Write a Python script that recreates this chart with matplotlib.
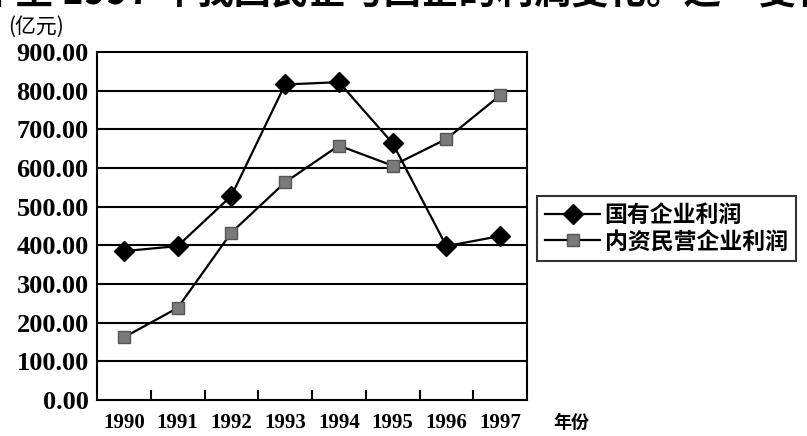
import matplotlib.pyplot as plt
import numpy as np

plt.rcParams['font.family'] = ['Liberation Serif', 'Noto Sans CJK SC', 'DejaVu Sans']

years = ['1990', '1991', '1992', '1993', '1994', '1995', '1996', '1997']
state_profit = [385, 398, 528, 816, 822, 664, 398, 424]
private_profit = [162, 238, 433, 563, 658, 606, 675, 788]
y_ticks = [0, 100, 200, 300, 400, 500, 600, 700, 800, 900]

fig = plt.figure(figsize=(8.07, 4.36), dpi=100)
ax = fig.add_axes([97 / 807, 1 - 400 / 436, 430 / 807, 348 / 436])

x = np.arange(len(years))

# horizontal grid lines
for v in y_ticks[1:-1]:
    ax.axhline(v, color='black', lw=1.5, zorder=1)

ax.plot(x, state_profit, color='black', lw=1.6, marker='D', ms=10,
        mfc='black', mec='black', label='国有企业利润', zorder=3)
ax.plot(x, private_profit, color='black', lw=1.6, marker='s', ms=8,
        mfc='#7a7a7a', mec='#555555', label='内资民营企业利润', zorder=3)

ax.set_xlim(-0.5, len(years) - 0.5)
ax.set_ylim(0, 900)
ax.set_yticks(y_ticks)
ax.set_yticklabels(['%.2f' % v for v in y_ticks], fontsize=19, fontweight='bold')
ax.tick_params(axis='y', length=0, pad=6)

ax.set_xticks(x)
ax.set_xticklabels(years, fontsize=15, fontweight='bold')
ax.set_xticks(x[:-1] + 0.5, minor=True)
ax.tick_params(axis='x', which='major', length=0, pad=9)
ax.tick_params(axis='x', which='minor', direction='in', length=7, width=1.5)

for s in ax.spines.values():
    s.set_color('black')
    s.set_linewidth(1.5)

ax.text(1.06, -0.065, '年份', transform=ax.transAxes, fontsize=13,
        fontweight='bold', family=['Noto Sans CJK SC'], ha='left', va='center')

fig.text(8 / 807, 1 - 27 / 436, '(亿元)', fontsize=15,
         family=['Noto Sans CJK SC'], ha='left', va='center')

fig.text(-22 / 807, 1 - 11 / 436, '年至 1997 年我国民企与国企的利润变化。这一变化',
         fontsize=27, family=['Noto Sans CJK SC'], fontweight='bold',
         ha='left', va='bottom')

leg = fig.legend(loc='upper left', bbox_to_anchor=(537 / 807, 1 - 196 / 436),
                 prop={'family': ['Noto Sans CJK SC'], 'weight': 'bold', 'size': 16.5},
                 frameon=True, fancybox=False, edgecolor='black',
                 handlelength=2.4, handletextpad=0.2, borderpad=0.35,
                 labelspacing=0.15, borderaxespad=0)
leg.get_frame().set_linewidth(1.5)

fig.savefig('out.png', dpi=100)
